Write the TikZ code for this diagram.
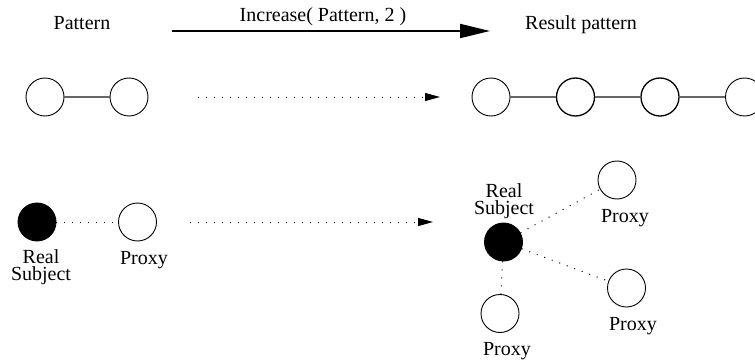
\documentclass[tikz,border=0pt]{standalone}
\usepackage{fontspec}
\setmainfont{Liberation Serif}
\usetikzlibrary{arrows.meta}

\tikzset{
    obj/.style={circle, draw, minimum size=38pt, inner sep=0pt, line width=0.9pt},
    realobj/.style={obj, fill=black},
    lbl/.style={inner sep=0pt, font=\fontsize{20}{17}\selectfont},
    link/.style={draw=black!60, line width=1.5pt},
    dots/.style={line width=1pt, dash pattern=on 1pt off 7pt},
    dotarrow/.style={dots, -{Triangle[length=15pt,width=8pt]}}
}

\begin{document}
\begin{tikzpicture}[x=1pt, y=-1pt]
    \useasboundingbox (0, 0) rectangle (755, 361);

    % Headings and the main arrow
    \node[lbl, anchor=base] (pattern) at (82, 30) {Pattern};
    \node[lbl, anchor=base] (result) at (581, 30) {Result pattern};
    \node[lbl, anchor=base] (incr) at (323, 22) {Increase( Pattern, 2 )};
    \coordinate (incrA) at (172, 31);
    \coordinate (incrB) at (490, 31);
    \draw[line width=2pt, -{Triangle[length=30pt,width=14pt]}] (incrA) -- (incrB);

    % Pattern: two objects
    \node[obj] (p1) at (45, 97) {};
    \node[obj] (p2) at (129, 97) {};
    \draw[link] (p1) -- (p2);

    \coordinate (topA) at (198, 97);
    \coordinate (topB) at (440, 97);
    \draw[dotarrow] (topA) -- (topB);

    % Result: four objects
    \node[obj] (r1) at (491, 97) {};
    \node[obj, line width=1.3pt] (r2) at (575.5, 97) {};
    \node[obj, line width=1.3pt] (r3) at (660, 97) {};
    \node[obj] (r4) at (744.5, 97) {};
    \draw[link] (r1) -- (r2) (r2) -- (r3) (r3) -- (r4);

    % Proxy pattern
    \node[realobj] (subj) at (37, 222) {};
    \node[obj] (proxy) at (137.5, 222) {};
    \draw[dots] (subj) -- (proxy);
    \node[lbl, align=center, anchor=north] (subjlbl) at (41, 249.5) {Real\\Subject};
    \node[lbl, anchor=base] (proxylbl) at (144, 264) {Proxy};

    \coordinate (botA) at (190, 222);
    \coordinate (botB) at (433, 222);
    \draw[dotarrow] (botA) -- (botB);

    % Result: one subject, three proxies
    \node[realobj] (rsubj) at (503.5, 242) {};
    \node[obj] (rp1) at (617, 180) {};
    \node[obj] (rp2) at (626.5, 288) {};
    \node[obj] (rp3) at (500, 313.5) {};
    \draw[dots] (rsubj) -- (rp1);
    \draw[dots] (rsubj) -- (rp2);
    \draw[dots] (rsubj) -- (rp3);
    \node[lbl, align=center, anchor=north] (rsubjlbl) at (504, 183.5) {Real\\Subject};
    \node[lbl, anchor=base] (rp1lbl) at (625, 222) {Proxy};
    \node[lbl, anchor=base] (rp2lbl) at (633, 330) {Proxy};
    \node[lbl, anchor=base] (rp3lbl) at (507, 355) {Proxy};

\end{tikzpicture}
\end{document}
